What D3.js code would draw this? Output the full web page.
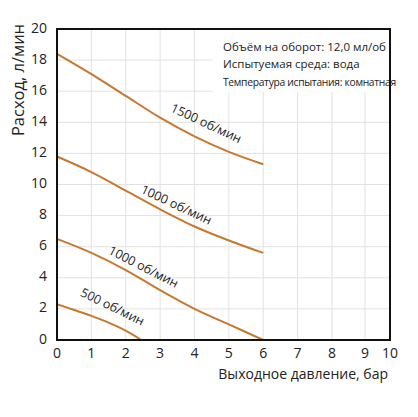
<!DOCTYPE html>
<html><head><meta charset="utf-8">
<script src="https://cdn.jsdelivr.net/npm/d3@7"></script>
<style>body{margin:0;background:#fff}svg{display:block}text{font-family:"Open Sans",sans-serif;fill:#222}</style>
</head><body><svg id="c" width="418" height="417"></svg>
<script>
const xTicks = [0,1,2,3,4,5,6,7,8,9,10];
const yTicks = [0,2,4,6,8,10,12,14,16,18,20];
const xTitle = "Выходное давление, бар";
const yTitle = "Расход, л/мин";
const notes = ["Объём на оборот: 12,0 мл/об","Испытуемая среда: вода","Температура испытания: комнатная"];
const seriesNames = ["1500 об/мин","1000 об/мин","1000 об/мин","500 об/мин"];
const s1500 = [[0,18.4],[1,17.1],[2,15.7],[3,14.3],[4,13.1],[5,12.1],[6,11.3]];
const s1000a = [[0,11.8],[1,10.8],[2,9.6],[3,8.4],[4,7.3],[5,6.4],[6,5.6]];
const s1000b = [[0,6.5],[1,5.6],[2,4.5],[3,3.2],[4,2.0],[5,1.0],[6,0]];
const s500 = [[0,2.3],[0.5,1.93],[1,1.55],[1.5,1.12],[2,0.6],[2.45,0]];
const labelAt = [[4.27,13.6,25],[3.4,8.36,25],[2.44,4.37,27],[1.54,1.8,26]];

const svg = d3.select("#c");
const x = d3.scaleLinear().domain([0,8,9,10]).range([57,332,365,390]);
const y = d3.scaleLinear().domain([0,20]).range([340,29]);
const col = "#c8782f";

// grid
svg.append("g").selectAll("line").data(xTicks.slice(1,-1)).join("line")
  .attr("x1",d=>x(d)).attr("x2",d=>x(d)).attr("y1",y(0)).attr("y2",y(20))
  .attr("stroke","#e2e2e2").attr("stroke-width",1);
svg.append("g").selectAll("line").data(yTicks.slice(1,-1)).join("line")
  .attr("y1",d=>y(d)).attr("y2",d=>y(d)).attr("x1",x(0)).attr("x2",x(10))
  .attr("stroke","#e2e2e2").attr("stroke-width",1);

// note box
svg.append("rect").attr("x",213).attr("y",y(20)).attr("width",x(10)-213).attr("height",63).attr("fill","#fff");
svg.append("g").selectAll("text").data(notes).join("text")
  .attr("x",223).attr("y",(d,i)=>[51,68,86][i])
  .attr("font-size",(d,i)=>i<2?11.5:10.3)
  .attr("letter-spacing",(d,i)=>i<2?0:-0.3)
  .text(d=>d);

// curves
const line = d3.line().x(d=>x(d[0])).y(d=>y(d[1])).curve(d3.curveCatmullRom.alpha(0.5));
const all = [s1500,s1000a,s1000b,s500];
svg.append("g").selectAll("path").data(all).join("path")
  .attr("d",line).attr("fill","none").attr("stroke",col).attr("stroke-width",2);

// labels
svg.append("g").selectAll("text").data(seriesNames).join("text")
  .attr("transform",(d,i)=>`translate(${x(labelAt[i][0])},${y(labelAt[i][1])}) rotate(${labelAt[i][2]}) translate(0,-6)`)
  .attr("text-anchor","middle").attr("dominant-baseline","central")
  .attr("font-size",12.5).text(d=>d);

// frame
svg.append("rect").attr("x",x(0)).attr("y",y(20)).attr("width",x(10)-x(0)).attr("height",y(0)-y(20))
  .attr("fill","none").attr("stroke","#111").attr("stroke-width",2);

// tick labels
svg.append("g").selectAll("text").data(xTicks).join("text")
  .attr("x",d=>x(d)).attr("y",352).attr("text-anchor","middle").attr("dominant-baseline","central")
  .attr("font-size",14).text(d=>d);
svg.append("g").selectAll("text").data(yTicks).join("text")
  .attr("x",47).attr("y",d=>y(d)-2).attr("text-anchor","end").attr("dominant-baseline","central")
  .attr("font-size",14).text(d=>d);

// titles
svg.append("text").attr("x",388).attr("y",373).attr("text-anchor","end").attr("dominant-baseline","central")
  .attr("font-size",14).text(xTitle);
svg.append("text").attr("transform","translate(17,80) rotate(-90)").attr("text-anchor","middle")
  .attr("dominant-baseline","central").attr("font-size",16.5).text(yTitle);
</script></body></html>
